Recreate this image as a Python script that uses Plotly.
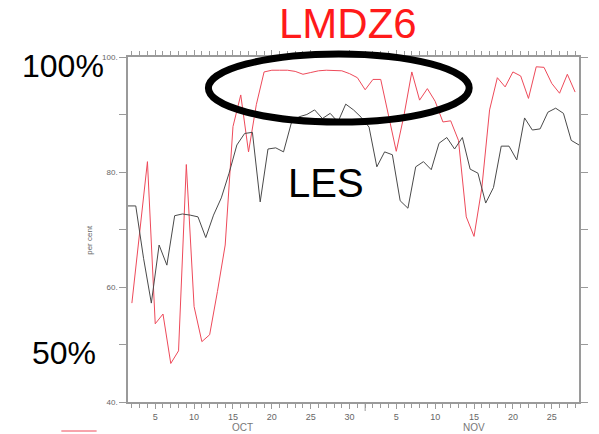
import numpy as np
import plotly.graph_objects as go

# Daily cloud-cover time series, Oct-Nov (day 1 = 1 Oct, day 32 = 1 Nov)
les_days = np.arange(1.5, 60.0, 1.0)
lmdz_days = np.arange(2.0, 60.0, 1.0)

les_pct = [74.1, 74.1, 65.0, 57.2, 67.3, 63.8, 72.4, 72.7, 72.5, 72.2,
           68.6, 72.5, 75.5, 79.8, 84.7, 86.7, 86.9, 74.8, 84.0, 84.2,
           83.5, 88.5, 89.6, 90.0, 90.8, 89.3, 90.2, 88.7, 91.8, 90.8,
           89.5, 87.8, 80.9, 83.5, 83.0, 75.0, 73.7, 80.9, 81.8, 80.4,
           85.0, 86.0, 84.0, 86.0, 80.5, 79.8, 74.6, 77.3, 84.5, 84.5,
           82.1, 89.4, 87.3, 87.5, 90.4, 91.1, 90.2, 85.5, 84.7]

lmdz_pct = [57.2, 69.5, 81.8, 53.6, 55.3, 46.7, 48.9, 81.3, 56.6, 50.5,
            51.7, 59.2, 67.3, 87.9, 93.4, 83.5, 91.7, 97.4, 97.7, 97.7,
            97.7, 97.5, 97.0, 97.3, 97.6, 97.7, 97.7, 97.6, 97.1, 96.4,
            94.3, 96.1, 96.1, 89.8, 83.6, 89.9, 97.4, 92.5, 94.5, 92.3,
            88.7, 88.9, 85.5, 72.2, 68.8, 77.2, 90.8, 96.4, 94.8, 97.4,
            96.7, 92.8, 98.3, 98.2, 95.4, 93.7, 97.0, 93.9]

x_tickvals = [5, 10, 15, 20, 25, 30, 36, 41, 46, 51, 56]
x_ticktext = ["5", "10", "15", "20", "25", "30", "5", "10", "15", "20", "25"]
y_tickvals = [40, 50, 60, 70, 80, 90, 100]
y_ticktext = ["40.", "", "60.", "", "80.", "", "100."]

AXIS = "#9a9a9a"
TICKFONT = dict(family="Liberation Sans, Arial, sans-serif", size=8, color="#666666")

fig = go.Figure()
fig.add_trace(go.Scatter(x=lmdz_days, y=lmdz_pct, mode="lines",
                         line=dict(color="#ee4a5a", width=1), name="LMDZ6"))
fig.add_trace(go.Scatter(x=les_days, y=les_pct, mode="lines",
                         line=dict(color="#4a4a4a", width=1), name="LES"))

W, H = 599, 434
L, R, T, B = 128, 11, 57, 32
pw, ph = W - L - R, H - T - B


def px(x):
    return (x - L) / pw


def py(y):
    return (H - B - y) / ph


fig.update_layout(
    width=W, height=H,
    margin=dict(l=L, r=R, t=T, b=B),
    plot_bgcolor="white", paper_bgcolor="white",
    showlegend=False,
    xaxis=dict(range=[1.5, 59.5], showgrid=False, zeroline=False,
               showline=True, linecolor=AXIS, linewidth=1.5, mirror="ticks",
               ticks="outside", ticklen=5, tickcolor=AXIS, tickwidth=1,
               tickvals=x_tickvals, ticktext=x_ticktext,
               tickfont=dict(TICKFONT, size=9),
               minor=dict(ticks="outside", dtick=1, tick0=1, ticklen=4,
                          tickcolor=AXIS, showgrid=False)),
    yaxis=dict(range=[40, 100], showgrid=False, zeroline=False,
               showline=True, linecolor=AXIS, linewidth=1.5, mirror="ticks",
               ticks="outside", ticklen=7, tickcolor=AXIS, tickwidth=1,
               tickvals=y_tickvals, ticktext=y_ticktext, tickfont=TICKFONT),
)

# Longer tick marking the start of November
fig.add_shape(type="line", xref="x", yref="paper", x0=32, x1=32,
              y0=0, y1=-9 / ph, line=dict(color=AXIS, width=1))

# Ellipse highlighting the LMDZ6 plateau
fig.add_shape(type="circle", xref="paper", yref="paper",
              x0=px(210), x1=px(476), y0=py(122), y1=py(54),
              line=dict(color="black", width=7))

# Short red legend stroke at the bottom-left corner
fig.add_shape(type="line", xref="paper", yref="paper",
              x0=px(60), x1=px(96), y0=py(431), y1=py(431),
              line=dict(color="#ee4a5a", width=1))

BIG = "Liberation Sans, Arial, sans-serif"
annos = [
    dict(text="LMDZ6", x=px(352), y=py(23), font=dict(family=BIG, size=42, color="#ff1a1a")),
    dict(text="LES", x=px(330), y=py(183), font=dict(family=BIG, size=40, color="black")),
    dict(text="100%", x=px(62), y=py(66), font=dict(family=BIG, size=32, color="black")),
    dict(text="50%", x=px(63), y=py(353), font=dict(family=BIG, size=32, color="black")),
    dict(text="per cent", x=px(88), y=py(240), textangle=-90,
         font=dict(family=BIG, size=8, color="#666666")),
    dict(text="OCT", x=px(245), y=py(427), font=dict(family=BIG, size=10, color="#777777")),
    dict(text="NOV", x=px(481), y=py(427), font=dict(family=BIG, size=10, color="#777777")),
]
for a in annos:
    fig.add_annotation(xref="paper", yref="paper", showarrow=False,
                       xanchor="center", yanchor="middle", **a)

fig.write_html("out.html")
